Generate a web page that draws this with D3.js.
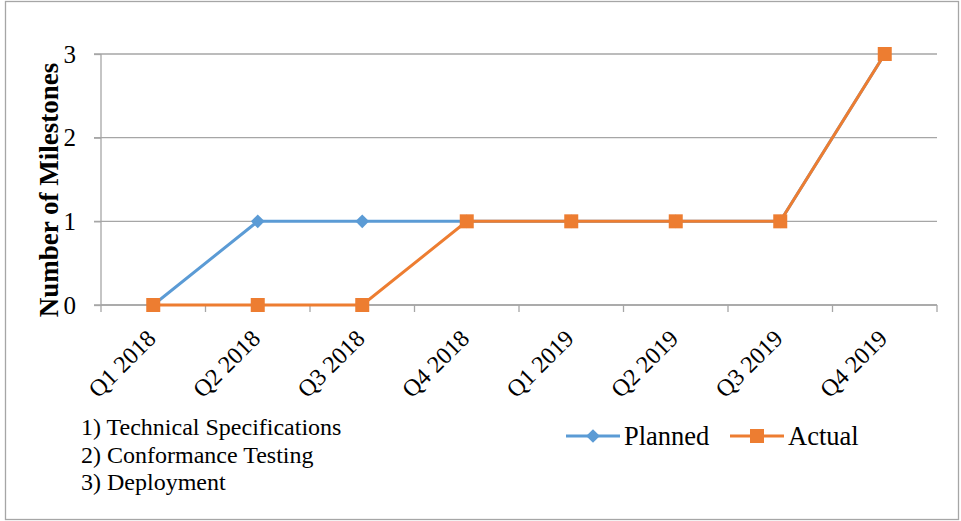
<!DOCTYPE html>
<html>
<head>
<meta charset="UTF-8">
<title>Milestones</title>
<style>
    body { margin: 0; padding: 0; background: #fff; }
    svg { display: block; font-family: "Liberation Serif", "Times New Roman", serif; }
    .grid line { stroke: #a6a6a6; stroke-width: 1.3px; }
    .axis path, .axis line { stroke: #a6a6a6; stroke-width: 1.3px; }
    .axis text { fill: #000; }
</style>
<script src="https://cdnjs.cloudflare.com/ajax/libs/d3/7.8.5/d3.min.js"></script>
</head>
<body>
<div id="chart"></div>
<script>
    // chart data
    var quarters = ["Q1 2018", "Q2 2018", "Q3 2018", "Q4 2018", "Q1 2019", "Q2 2019", "Q3 2019", "Q4 2019"];
    var planned = [0, 1, 1, 1, 1, 1, 1, 3];
    var actual = [0, 0, 0, 1, 1, 1, 1, 3];
    var yTicks = [0, 1, 2, 3];
    var notes = ["1) Technical Specifications", "2) Conformance Testing", "3) Deployment"];
    var seriesNames = ["Planned", "Actual"];

    var W = 961, H = 521;
    var plotLeft = 101, plotRight = 937, plotTop = 54, plotBottom = 305;

    var svg = d3.select("#chart").append("svg")
        .attr("width", W)
        .attr("height", H);

    // outer frame
    svg.append("rect")
        .attr("x", 5.5).attr("y", 1.5)
        .attr("width", W - 8).attr("height", H - 3)
        .attr("fill", "#fff")
        .attr("stroke", "#a6a6a6")
        .attr("stroke-width", 1.3);

    var x = d3.scaleBand().domain(quarters).range([plotLeft, plotRight]);
    var y = d3.scaleLinear().domain([0, 3]).range([plotBottom, plotTop]);

    // gridlines
    svg.append("g").attr("class", "grid")
        .selectAll("line")
        .data(yTicks)
        .enter().append("line")
        .attr("x1", plotLeft - 7).attr("x2", plotRight)
        .attr("y1", function(d) { return y(d); })
        .attr("y2", function(d) { return y(d); });

    // y axis
    var yAxis = svg.append("g").attr("class", "axis")
        .attr("transform", "translate(" + plotLeft + ",0)")
        .call(d3.axisLeft(y).tickValues(yTicks).tickSize(7).tickPadding(18).tickFormat(d3.format("d")));
    yAxis.select(".domain").attr("d", "M0," + plotTop + "V" + plotBottom);
    yAxis.selectAll("text").attr("font-size", 25).attr("font-family", "Liberation Serif");

    // x axis with ticks between categories
    var xg = svg.append("g").attr("class", "axis")
        .attr("transform", "translate(0," + plotBottom + ")");
    xg.append("line").attr("x1", plotLeft).attr("x2", plotRight).attr("y1", 0).attr("y2", 0);
    var edges = quarters.map(function(q) { return x(q); }).concat([plotRight]);
    xg.selectAll(".tk").data(edges).enter().append("line")
        .attr("class", "tk")
        .attr("x1", function(d) { return d; }).attr("x2", function(d) { return d; })
        .attr("y1", 0).attr("y2", 7);
    xg.selectAll(".lbl").data(quarters).enter().append("text")
        .attr("class", "lbl")
        .attr("font-size", 24)
        .attr("text-anchor", "end")
        .attr("transform", function(d) {
            return "translate(" + (x(d) + x.bandwidth() / 2 + 4) + ",35) rotate(-45)";
        })
        .text(function(d) { return d; });

    // y axis title
    svg.append("text")
        .attr("transform", "translate(58,190) rotate(-90)")
        .attr("text-anchor", "middle")
        .attr("font-size", 27)
        .attr("font-weight", "bold")
        .text("Number of Milestones");

    var cx = function(d, i) { return x(quarters[i]) + x.bandwidth() / 2; };
    var line = d3.line()
        .x(function(d, i) { return cx(d, i); })
        .y(function(d) { return y(d); });

    var blue = "#5b9bd5", orange = "#ed7d31";
    var diamond = d3.symbol().type(d3.symbolDiamond2).size(120);

    // planned
    svg.append("path").datum(planned)
        .attr("d", line).attr("fill", "none")
        .attr("stroke", blue).attr("stroke-width", 3);
    svg.selectAll(".pm").data(planned).enter().append("path")
        .attr("class", "pm")
        .attr("d", diamond)
        .attr("transform", function(d, i) { return "translate(" + cx(d, i) + "," + y(d) + ")"; })
        .attr("fill", blue);

    // actual
    svg.append("path").datum(actual)
        .attr("d", line).attr("fill", "none")
        .attr("stroke", orange).attr("stroke-width", 3);
    svg.selectAll(".am").data(actual).enter().append("rect")
        .attr("class", "am")
        .attr("x", function(d, i) { return cx(d, i) - 7; })
        .attr("y", function(d) { return y(d) - 7; })
        .attr("width", 14).attr("height", 14)
        .attr("fill", orange);

    // notes
    svg.selectAll(".note").data(notes).enter().append("text")
        .attr("class", "note")
        .attr("x", 81)
        .attr("y", function(d, i) { return 435 + i * 27.5; })
        .attr("font-size", 24)
        .text(function(d) { return d; });

    // legend
    var legend = svg.append("g");
    var lx = [566, 730];
    var colors = [blue, orange];
    seriesNames.forEach(function(name, i) {
        var g = legend.append("g").attr("transform", "translate(" + lx[i] + ",436)");
        g.append("line").attr("x1", 0).attr("x2", 54).attr("y1", 0).attr("y2", 0)
            .attr("stroke", colors[i]).attr("stroke-width", 3);
        if (i == 0) {
            g.append("path").attr("d", diamond).attr("transform", "translate(27,0)").attr("fill", blue);
        } else {
            g.append("rect").attr("x", 20).attr("y", -7).attr("width", 14).attr("height", 14).attr("fill", orange);
        }
        g.append("text").attr("x", 58).attr("y", 9).attr("font-size", 26.5).text(name);
    });
</script>
</body>
</html>
